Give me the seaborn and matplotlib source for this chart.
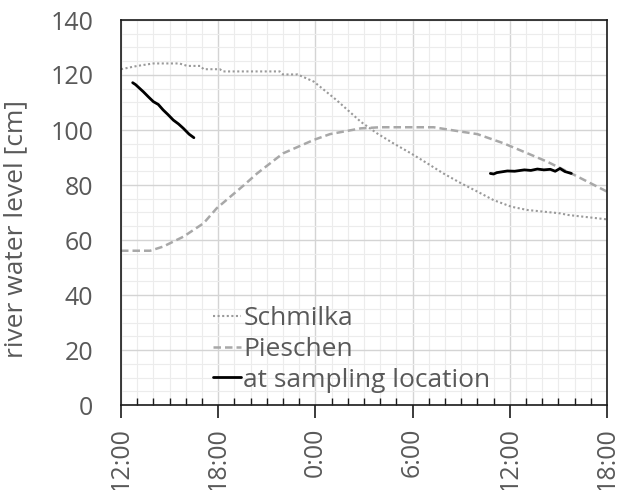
import matplotlib
matplotlib.use("Agg")
import matplotlib.pyplot as plt
from matplotlib.ticker import MultipleLocator, FixedLocator
import seaborn as sns
import pandas as pd

# hours since 12:00 on day 1
schmilka_h = [0.0, 1.0, 2.0, 3.6, 4.1, 4.9, 5.1, 6.1, 6.3, 9.8, 10.0, 10.9, 11.9, 13.3, 14.8,
              15.8, 16.8, 17.9, 18.9, 19.9, 21.0, 22.0, 23.0, 24.1, 25.1, 27.1, 27.6, 30.0]
schmilka_v = [122.1, 123.3, 124.2, 124.2, 123.3, 123.3, 122.1, 122.1, 121.3, 121.3, 120.2, 120.2,
              117.6, 110.9, 103.0, 98.8, 95.2, 91.5, 87.9, 84.2, 80.6, 77.6, 74.5, 72.1, 70.9,
              69.7, 69.1, 67.5]

pieschen_h = [0.0, 1.8, 2.6, 3.85, 5.1, 5.9, 7.6, 8.4, 10.0, 11.9, 12.9, 14.8, 16.0, 19.3,
              21.0, 22.0, 23.6, 25.1, 26.3, 28.0, 30.0]
pieschen_v = [56.1, 56.1, 57.6, 61.2, 66.1, 71.5, 80.0, 84.2, 91.5, 96.4, 98.5, 100.6, 101.0,
              101.0, 99.4, 98.5, 95.2, 91.5, 88.5, 83.6, 77.6]

site1_h = [0.72, 0.9, 1.38, 1.7, 2.0, 2.3, 2.6, 2.9, 3.23, 3.55, 3.85, 4.2, 4.5]
site1_v = [117.2, 116.5, 113.9, 112.0, 110.3, 109.3, 107.3, 105.6, 103.6, 102.2, 100.6, 98.5, 97.2]
site2_h = [22.8, 23.0, 23.2, 23.85, 24.3, 24.9, 25.3, 25.7, 26.1, 26.5, 26.8, 27.1, 27.4, 27.8]
site2_v = [84.2, 84.0, 84.5, 85.1, 85.0, 85.5, 85.3, 85.8, 85.5, 85.7, 85.0, 86.0, 84.9, 84.2]

xtick_labels = ["12:00", "18:00", "0:00", "6:00", "12:00", "18:00"]

sns.set_theme(style="white")
plt.rcParams['font.family'] = ['Open Sans', 'DejaVu Sans']
TXT = "#595959"
FS = 19
TFS = 18

fig = plt.figure(figsize=(6.19, 4.9), dpi=100)
ax = fig.add_axes([121/619, 1 - 405/490, (607 - 121)/619, (405 - 20)/490])

df_s = pd.DataFrame({"h": schmilka_h, "v": schmilka_v})
df_p = pd.DataFrame({"h": pieschen_h, "v": pieschen_v})
df_a = pd.DataFrame({"h": site1_h, "v": site1_v})
df_b = pd.DataFrame({"h": site2_h, "v": site2_v})

sns.lineplot(data=df_s, x="h", y="v", ax=ax, color="#9a9a9a", lw=1.5,
             linestyle=(0, (1, 1.2)), label="Schmilka", estimator=None)
sns.lineplot(data=df_p, x="h", y="v", ax=ax, color="#a8a8a8", lw=1.8,
             linestyle=(0, (3, 1.6)), label="Pieschen", estimator=None)
sns.lineplot(data=df_a, x="h", y="v", ax=ax, color="black", lw=2.0,
             label="at sampling location", estimator=None)
sns.lineplot(data=df_b, x="h", y="v", ax=ax, color="black", lw=2.0,
             estimator=None, legend=False)

ax.set_xlim(0, 30)
ax.set_ylim(0, 140)
ax.xaxis.set_major_locator(FixedLocator([0, 6, 12, 18, 24, 30]))
ax.set_xticklabels(xtick_labels, rotation=90)
ax.xaxis.set_minor_locator(MultipleLocator(1))
ax.yaxis.set_major_locator(MultipleLocator(20))
ax.yaxis.set_minor_locator(MultipleLocator(5))

ax.grid(which="major", color="#d4d4d4", lw=1.0)
ax.grid(which="minor", color="#ececec", lw=0.8)
ax.set_axisbelow(True)

for s in ax.spines.values():
    s.set_color("#1a1a1a")
    s.set_linewidth(1.2)

ax.tick_params(axis="x", which="major", direction="out", length=9, width=1.2,
               color="#1a1a1a", labelsize=TFS, labelcolor=TXT, pad=7, bottom=True)
ax.tick_params(axis="x", which="minor", direction="in", length=5, width=1.0,
               color="#1a1a1a", bottom=True)
ax.tick_params(axis="y", which="both", length=0, labelsize=TFS, labelcolor=TXT, pad=20)

ax.set_xlabel("")
ax.set_ylabel("river water level [cm]", fontsize=FS, color=TXT)
ax.yaxis.set_label_coords(-0.19, 0.458)

leg = ax.legend(loc="upper left", bbox_to_anchor=(0.189, 0.257), frameon=False,
                fontsize=FS, handlelength=1.05, handletextpad=0.1, labelspacing=0.22,
                borderaxespad=0.0, borderpad=0.0)
for t in leg.get_texts():
    t.set_color(TXT)

fig.savefig("out.png", dpi=100)
